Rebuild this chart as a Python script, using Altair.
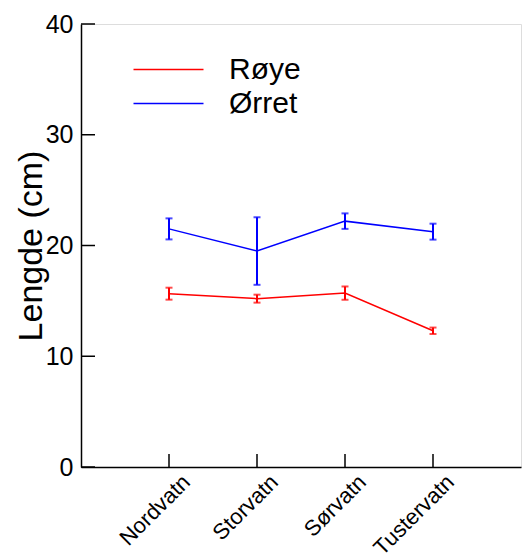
import altair as alt
import pandas as pd

# Mean fish length per lake with error (cm)
lakes = ["Nordvatn", "Storvatn", "Sørvatn", "Tustervatn"]
roye_mean = [15.65, 15.2, 15.7, 12.3]
roye_err = [0.54, 0.36, 0.6, 0.29]
orret_mean = [21.5, 19.5, 22.2, 21.25]
orret_err = [0.95, 3.05, 0.7, 0.72]
species = ["Røye", "Ørret"]
colors = ["#ff0000", "#0000ff"]
y_ticks = [0, 10, 20, 30, 40]

rows = []
for sp, means, errs in [("Røye", roye_mean, roye_err), ("Ørret", orret_mean, orret_err)]:
    for lake, m, e in zip(lakes, means, errs):
        rows.append({"lake": lake, "species": sp, "mean": m, "lo": m - e, "hi": m + e})
df = pd.DataFrame(rows)

FONT = "Liberation Sans"

x_enc = alt.X(
    "lake:N",
    sort=lakes,
    scale=alt.Scale(type="point", padding=1),
    axis=alt.Axis(
        title=None, labelAngle=-45, labelFontSize=22, labelFont=FONT, labelColor="black",
        tickSize=0, labelPadding=4, labelOffset=10, domainColor="black", domainWidth=1.5,
    ),
)
y_scale = alt.Scale(domain=[0, 40], nice=False, zero=True)
y_axis = alt.Axis(
    values=y_ticks, tickSize=0, labelFontSize=25, labelFont=FONT, labelColor="black",
    labelPadding=8, domainColor="black", domainWidth=1.5, grid=False,
    title="Lengde (cm)", titleFontSize=34, titleFont=FONT, titleFontWeight="normal",
    titleColor="black", titleX=-50, titleY=221.5, titleBaseline="middle",
    titleAlign="center", titleAngle=270,
)
# Long horizontal stroke as legend symbol (custom path scaled by sqrt(size)/2)
color_enc = alt.Color(
    "species:N",
    scale=alt.Scale(domain=species, range=colors),
    legend=alt.Legend(
        title=None, orient="none", legendX=69, legendY=27, symbolType="M-2,0H2",
        symbolSize=1225, symbolStrokeWidth=1.5, labelFontSize=30, labelFont=FONT,
        labelColor="black", labelOffset=42, rowPadding=0, padding=0,
    ),
)

base = alt.Chart(df)

lines = base.mark_line(strokeWidth=1.5).encode(
    x=x_enc, y=alt.Y("mean:Q", scale=y_scale, axis=y_axis), color=color_enc
)
bars = base.mark_rule(strokeWidth=2).encode(
    x=alt.X("lake:N", sort=lakes), y="lo:Q", y2="hi:Q",
    color=alt.Color("species:N", legend=None),
)
cap_lo = base.mark_tick(orient="horizontal", size=7, thickness=2).encode(
    x=alt.X("lake:N", sort=lakes), y="lo:Q", color=alt.Color("species:N", legend=None)
)
cap_hi = base.mark_tick(orient="horizontal", size=7, thickness=2).encode(
    x=alt.X("lake:N", sort=lakes), y="hi:Q", color=alt.Color("species:N", legend=None)
)

# Inward-pointing tick marks on both axes
ytick_df = pd.DataFrame({"v": y_ticks})
yticks = alt.Chart(ytick_df).mark_rule(color="black", strokeWidth=1.5).encode(
    y=alt.Y("v:Q"), x=alt.value(0), x2=alt.value(14)
)
xtick_df = pd.DataFrame({"lake": lakes})
xticks = alt.Chart(xtick_df).mark_rule(color="black", strokeWidth=1.5).encode(
    x=alt.X("lake:N", sort=lakes), y=alt.value(443), y2=alt.value(430)
)

chart = (
    alt.layer(lines, bars, cap_lo, cap_hi, yticks, xticks)
    .properties(
        width=440, height=443,
        autosize=alt.AutoSizeParams(type="none"),
        padding={"left": 81, "top": 24, "right": 2, "bottom": 90},
    )
    .configure_view(stroke=None)
    .configure(background="white")
)

chart.save("out.html", embed_options={"renderer": "svg", "actions": False})
